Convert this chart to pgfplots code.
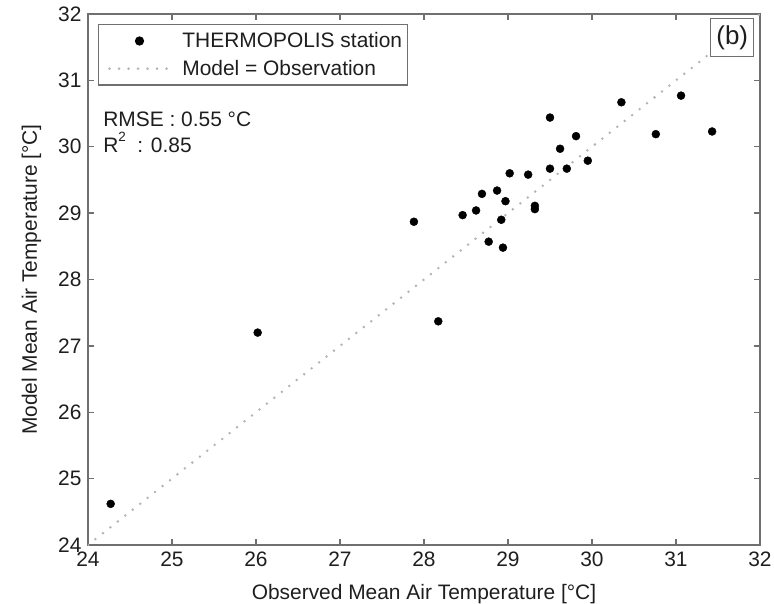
\documentclass[border=0pt]{standalone}
\usepackage{pgfplots}
\pgfplotsset{compat=1.18}
\usepackage{fontspec}
\setmainfont{Liberation Sans}
\definecolor{axgray}{HTML}{707070}
\definecolor{txt}{HTML}{1E1E1E}
\definecolor{dotline}{HTML}{B4B4B4}
\pgfplotsset{
  legdot/.style={legend image code/.code={\path (-9.5bp,0bp); \draw[mark repeat=2,mark phase=2,##1] plot coordinates {(0bp,0bp) (30bp,0bp) (60bp,0bp)};}},
  legline/.style={legend image code/.code={\path (-9.5bp,0bp); \draw[##1] (0bp,0bp) -- (60bp,0bp);}},
}
\begin{document}
\begin{tikzpicture}
\begin{axis}[
  name=ax, at={(0,0)}, anchor=south west,
  width=672bp, height=531bp, scale only axis,
  xmin=24, xmax=32, ymin=24, ymax=32,
  xtick={24,...,32}, ytick={24,...,32},
  tick align=inside, major tick length=6bp,
  axis line style={draw=axgray, line width=1.3bp},
  every tick/.style={draw=axgray, line width=1.3bp},
  font=\fontsize{21}{25}\selectfont,
  tick label style={font=\fontsize{21}{25}\selectfont, text=txt},
  /pgf/number format/assume math mode=true,
  xticklabel style={yshift=-3bp},
  yticklabel style={xshift=-3bp},
  every axis x label/.style={at={(axis description cs:0.5,0)}, anchor=base, yshift=-54bp, font=\fontsize{21}{25}\selectfont, text=txt},
  every axis y label/.style={at={(axis description cs:0,0.5)}, xshift=-51bp, rotate=90, anchor=base, font=\fontsize{21}{25}\selectfont, text=txt},
  xlabel={Observed Mean Air Temperature [°C]},
  ylabel={Model Mean Air Temperature [°C]},
  legend style={at={(0.0149,0.981)}, anchor=north west, draw=axgray, line width=1.2bp, fill=white,
    font=\fontsize{21}{25}\selectfont, text=txt, inner xsep=0bp, inner ysep=6bp, row sep=7bp,
    nodes={inner xsep=5bp},
    cells={anchor=west}, /tikz/every odd column/.style={column sep=6.5bp}},
  legend cell align=left,
]
\addplot[only marks, mark=*, mark size=4bp, black, mark options={fill=black}, legdot]
  coordinates {
  (30.35,30.67) (31.06,30.77) (30.76,30.19) (31.43,30.23)
  (29.50,30.44) (29.81,30.16) (29.62,29.97) (29.95,29.79)
  (29.50,29.67) (29.70,29.67) (29.02,29.60) (29.24,29.58)
  (28.69,29.29) (28.87,29.34) (28.97,29.18) (29.32,29.11)
  (29.32,29.06) (28.46,28.97) (28.62,29.04) (28.92,28.90)
  (28.77,28.57) (28.94,28.48) (27.88,28.87) (28.17,27.37)
  (26.02,27.20) (24.27,24.62)
  };
\addlegendentry{THERMOPOLIS station}
\addplot[dotline, line width=2.8bp, line cap=round, dash pattern=on 0bp off 9.5bp, legline]
  coordinates {(24,24) (32,32)};
\addlegendentry{Model = Observation}
\node[anchor=base west, text=txt, font=\fontsize{21}{25}\selectfont, inner sep=0pt] at (axis cs:24.18,30.30) {RMSE : 0.55 °C};
\node[anchor=base west, text=txt, font=\fontsize{21}{25}\selectfont, inner sep=0pt] at (axis cs:24.18,29.92) {R\raisebox{0.5em}{\fontsize{13.5}{13.5}\selectfont 2}\hspace{0.55em}: 0.85};
\node[draw=axgray, fill=white, line width=1.2bp, text=txt, font=\fontsize{26}{30}\selectfont, inner sep=2bp, minimum width=43bp, minimum height=38bp] at (axis cs:31.67,31.64) {(b)};
\end{axis}
\pgfresetboundingbox
\path[use as bounding box] (-88bp,-59bp) rectangle (686bp,545bp);
\end{tikzpicture}
\end{document}
